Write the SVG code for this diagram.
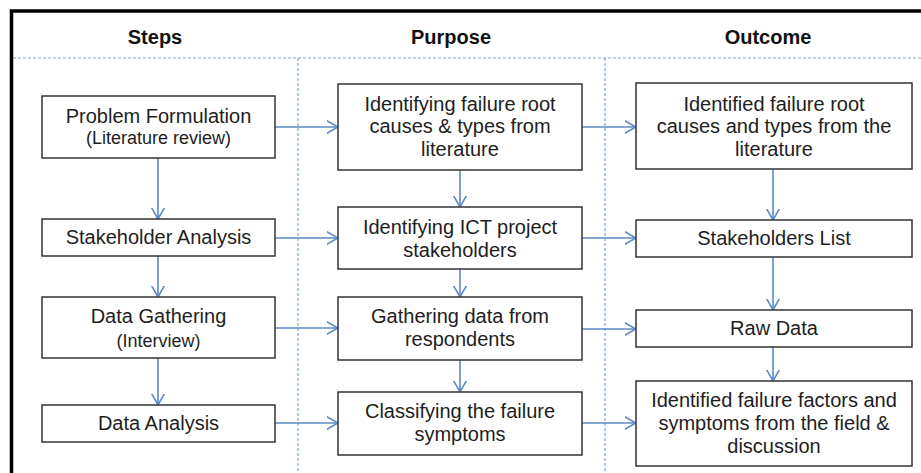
<svg xmlns="http://www.w3.org/2000/svg" width="921" height="473" viewBox="0 0 921 473">
<defs>
<style>
.box{fill:#fff;stroke:#333;stroke-width:1.5}
.t{font-family:"Liberation Sans",Arial,sans-serif;font-size:20px;fill:#1e1e1e;text-anchor:middle}
.s{font-size:18px}
.h{font-family:"Liberation Sans",Arial,sans-serif;font-size:20px;font-weight:bold;fill:#111;text-anchor:middle}
.dash{stroke:#7fa6d6;stroke-width:1.2;stroke-dasharray:3 2;fill:none}
.c{stroke:#5b8ac6;stroke-width:1.6;fill:none;marker-end:url(#ah)}
</style>
<marker id="ah" viewBox="0 0 12 14" refX="11.5" refY="7" markerWidth="12" markerHeight="14" markerUnits="userSpaceOnUse" orient="auto">
<path d="M0,0.5 L11.5,7 L0,13.5" fill="none" stroke="#5b8ac6" stroke-width="1.6"/>
</marker>
</defs>
<rect width="921" height="473" fill="#fff"/>
<g id="frame">
<path d="M11.5,473 V11 H921" fill="none" stroke="#000" stroke-width="3.5"/>
<line class="dash" x1="13" y1="58" x2="921" y2="58"/>
<line class="dash" x1="298" y1="58" x2="298" y2="473"/>
<line class="dash" x1="605" y1="58" x2="605" y2="473"/>
</g>
<g id="headers">
<text class="h" x="155" y="44">Steps</text>
<text class="h" x="451" y="44">Purpose</text>
<text class="h" x="768" y="44">Outcome</text>
</g>
<g id="connectors">
<line class="c" x1="158" y1="158" x2="158" y2="219"/>
<line class="c" x1="158" y1="256" x2="158" y2="297"/>
<line class="c" x1="158" y1="358" x2="158" y2="405"/>
<line class="c" x1="460" y1="170" x2="460" y2="207"/>
<line class="c" x1="460" y1="269" x2="460" y2="297"/>
<line class="c" x1="460" y1="360" x2="460" y2="392"/>
<line class="c" x1="773" y1="169" x2="773" y2="220"/>
<line class="c" x1="773" y1="257" x2="773" y2="310"/>
<line class="c" x1="773" y1="347" x2="773" y2="381"/>
<line class="c" x1="275" y1="127" x2="338" y2="127"/>
<line class="c" x1="275" y1="238" x2="338" y2="238"/>
<line class="c" x1="275" y1="328" x2="338" y2="328"/>
<line class="c" x1="275" y1="423" x2="338" y2="423"/>
<line class="c" x1="582" y1="127" x2="636" y2="127"/>
<line class="c" x1="582" y1="238" x2="636" y2="238"/>
<line class="c" x1="582" y1="329" x2="636" y2="329"/>
<line class="c" x1="582" y1="423" x2="636" y2="423"/>
</g>
<g id="step1"><rect class="box" x="42" y="96" width="233" height="62"/>
<text class="t" x="158.5" y="123">Problem Formulation</text>
<text class="t s" x="158.5" y="144">(Literature review)</text></g>
<g id="step2"><rect class="box" x="42" y="219" width="233" height="37"/>
<text class="t" x="158.5" y="244">Stakeholder Analysis</text></g>
<g id="step3"><rect class="box" x="42" y="297" width="233" height="61"/>
<text class="t" x="158.5" y="323">Data Gathering</text>
<text class="t s" x="158.5" y="347">(Interview)</text></g>
<g id="step4"><rect class="box" x="42" y="405" width="233" height="37"/>
<text class="t" x="158.5" y="430">Data Analysis</text></g>
<g id="purpose1"><rect class="box" x="338" y="84" width="244" height="86"/>
<text class="t" x="460" y="111">Identifying failure root</text>
<text class="t" x="460" y="133">causes &amp; types from</text>
<text class="t" x="460" y="156">literature</text></g>
<g id="purpose2"><rect class="box" x="338" y="207" width="244" height="62"/>
<text class="t" x="460" y="234">Identifying ICT project</text>
<text class="t" x="460" y="257">stakeholders</text></g>
<g id="purpose3"><rect class="box" x="338" y="297" width="244" height="63"/>
<text class="t" x="460" y="323">Gathering  data from</text>
<text class="t" x="460" y="346">respondents</text></g>
<g id="purpose4"><rect class="box" x="338" y="392" width="244" height="63"/>
<text class="t" x="460" y="418">Classifying the failure</text>
<text class="t" x="460" y="441">symptoms</text></g>
<g id="outcome1"><rect class="box" x="636" y="83" width="276" height="86"/>
<text class="t" x="774" y="111">Identified failure root</text>
<text class="t" x="774" y="133">causes and  types from the</text>
<text class="t" x="774" y="156">literature</text></g>
<g id="outcome2"><rect class="box" x="636" y="220" width="276" height="37"/>
<text class="t" x="774" y="245">Stakeholders List</text></g>
<g id="outcome3"><rect class="box" x="636" y="310" width="276" height="37"/>
<text class="t" x="774" y="335">Raw Data</text></g>
<g id="outcome4"><rect class="box" x="636" y="381" width="276" height="85"/>
<text class="t" x="774" y="407">Identified failure factors and</text>
<text class="t" x="774" y="430">symptoms from the field &amp;</text>
<text class="t" x="774" y="453">discussion</text></g>
</svg>
